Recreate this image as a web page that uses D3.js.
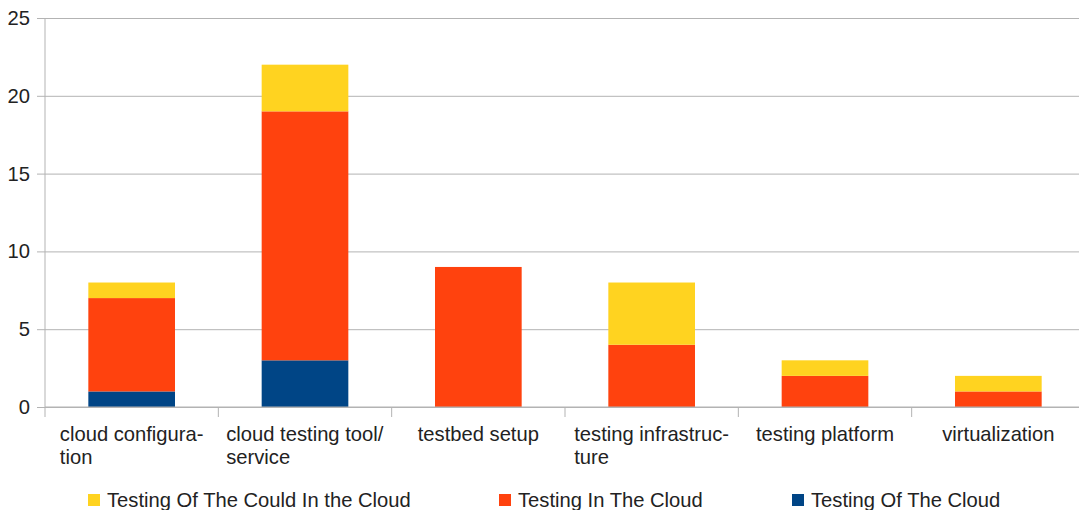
<!DOCTYPE html>
<html>
<head>
<meta charset="utf-8">
<script src="https://cdn.jsdelivr.net/npm/d3@7"></script>
<style>
  body { margin: 0; background: #fff; }
  text { font-family: "Liberation Sans", Arial, sans-serif; fill: #222; }
</style>
</head>
<body>
<svg id="chart"></svg>
<script>
// data
var categories = [
    ["cloud configura-", "tion"],
    ["cloud testing tool/", "service"],
    ["testbed setup"],
    ["testing infrastruc-", "ture"],
    ["testing platform"],
    ["virtualization"]
];
var ofTheCloud   = [1, 3, 0, 0, 0, 0];
var inTheCloud   = [6, 16, 9, 4, 2, 1];
var couldInCloud = [1, 3, 0, 4, 1, 1];
var seriesNames = ["Testing Of The Cloud", "Testing In The Cloud", "Testing Of The Could In the Cloud"];
var yTicks = [0, 5, 10, 15, 20, 25];

var colors = ["#004586", "#ff420e", "#ffd320"];
var fontSize = "20.2px";

var screen = {width:1079, height:510};
var margins = {top:18, bottom:103, left:45, right:-6};
var graph = {
    width: screen.width - margins.left - margins.right,
    height: screen.height - margins.top - margins.bottom
};

var svg = d3.select("#chart")
    .attr("width", screen.width)
    .attr("height", screen.height);

var g = svg.append("g")
    .attr("transform", "translate(" + margins.left + "," + margins.top + ")");

var idx = d3.range(categories.length);
var xScale = d3.scaleBand()
    .domain(idx)
    .range([0, graph.width])
    .paddingInner(0.5)
    .paddingOuter(0.25);

var yScale = d3.scaleLinear()
    .domain([0, 25])
    .range([graph.height, 0]);

// gridlines + y axis
var yAxis = d3.axisLeft(yScale)
    .tickValues(yTicks)
    .tickSize(-graph.width)
    .tickPadding(7)
    .tickFormat(d3.format("d"));

var ya = g.append("g").call(yAxis);
ya.select(".domain").remove();
ya.selectAll(".tick line")
    .attr("x1", -8)
    .attr("stroke", "#b3b3b3");
ya.selectAll(".tick text")
    .style("font-size", fontSize)
    .attr("x", -15);

// left axis line
g.append("line")
    .attr("x1", 0).attr("x2", 0)
    .attr("y1", 0).attr("y2", graph.height)
    .attr("stroke", "#b3b3b3");

// stacked bars
var rows = idx.map(function(i) {
    return {i: i, a: ofTheCloud[i], b: inTheCloud[i], c: couldInCloud[i]};
});
var stack = d3.stack().keys(["a", "b", "c"]);
var series = stack(rows);

var groups = g.selectAll("g.series")
    .data(series)
    .enter()
    .append("g")
    .classed("series", true)
    .style("fill", function(d, i) { return colors[i]; });

groups.selectAll("rect")
    .data(function(d) { return d; })
    .enter()
    .append("rect")
    .attr("x", function(d) { return xScale(d.data.i); })
    .attr("y", function(d) { return yScale(d[1]); })
    .attr("width", xScale.bandwidth())
    .attr("height", function(d) { return yScale(d[0]) - yScale(d[1]); });

// x axis: ticks at category boundaries
var step = xScale.step();
var xa = g.append("g")
    .attr("transform", "translate(0," + graph.height + ")");
xa.append("line")
    .attr("x1", 0).attr("x2", graph.width)
    .attr("stroke", "#b3b3b3");
xa.selectAll("line.tk")
    .data(d3.range(categories.length))
    .enter()
    .append("line")
    .classed("tk", true)
    .attr("x1", function(d) { return d * step; })
    .attr("x2", function(d) { return d * step; })
    .attr("y1", 0).attr("y2", 10)
    .attr("stroke", "#b3b3b3");

// category labels: block centered, lines left aligned
var labels = xa.selectAll("text.cat")
    .data(categories)
    .enter()
    .append("text")
    .classed("cat", true)
    .style("font-size", fontSize)
    .attr("y", 34);

labels.each(function(lines, i) {
    var t = d3.select(this);
    lines.forEach(function(l, j) {
        t.append("tspan").text(l).attr("x", 0).attr("dy", j == 0 ? 0 : 22.5);
    });
    var w = this.getBBox().width;
    var x0 = xScale(i) + xScale.bandwidth() / 2 - w / 2;
    t.selectAll("tspan").attr("x", x0);
});

// legend
var legendItems = [2, 1, 0];
var legendX = [88, 499, 792];
var legend = svg.append("g").classed("legend", true);
var entries = legend.selectAll("g")
    .data(legendItems)
    .enter()
    .append("g")
    .attr("transform", function(d, i) { return "translate(" + legendX[i] + ",494)"; });

entries.append("rect")
    .attr("width", 12)
    .attr("height", 12)
    .attr("fill", function(d) { return colors[d]; });

entries.append("text")
    .text(function(d) { return seriesNames[d]; })
    .attr("x", 19)
    .attr("y", 13)
    .style("font-size", fontSize);
</script>
</body>
</html>
